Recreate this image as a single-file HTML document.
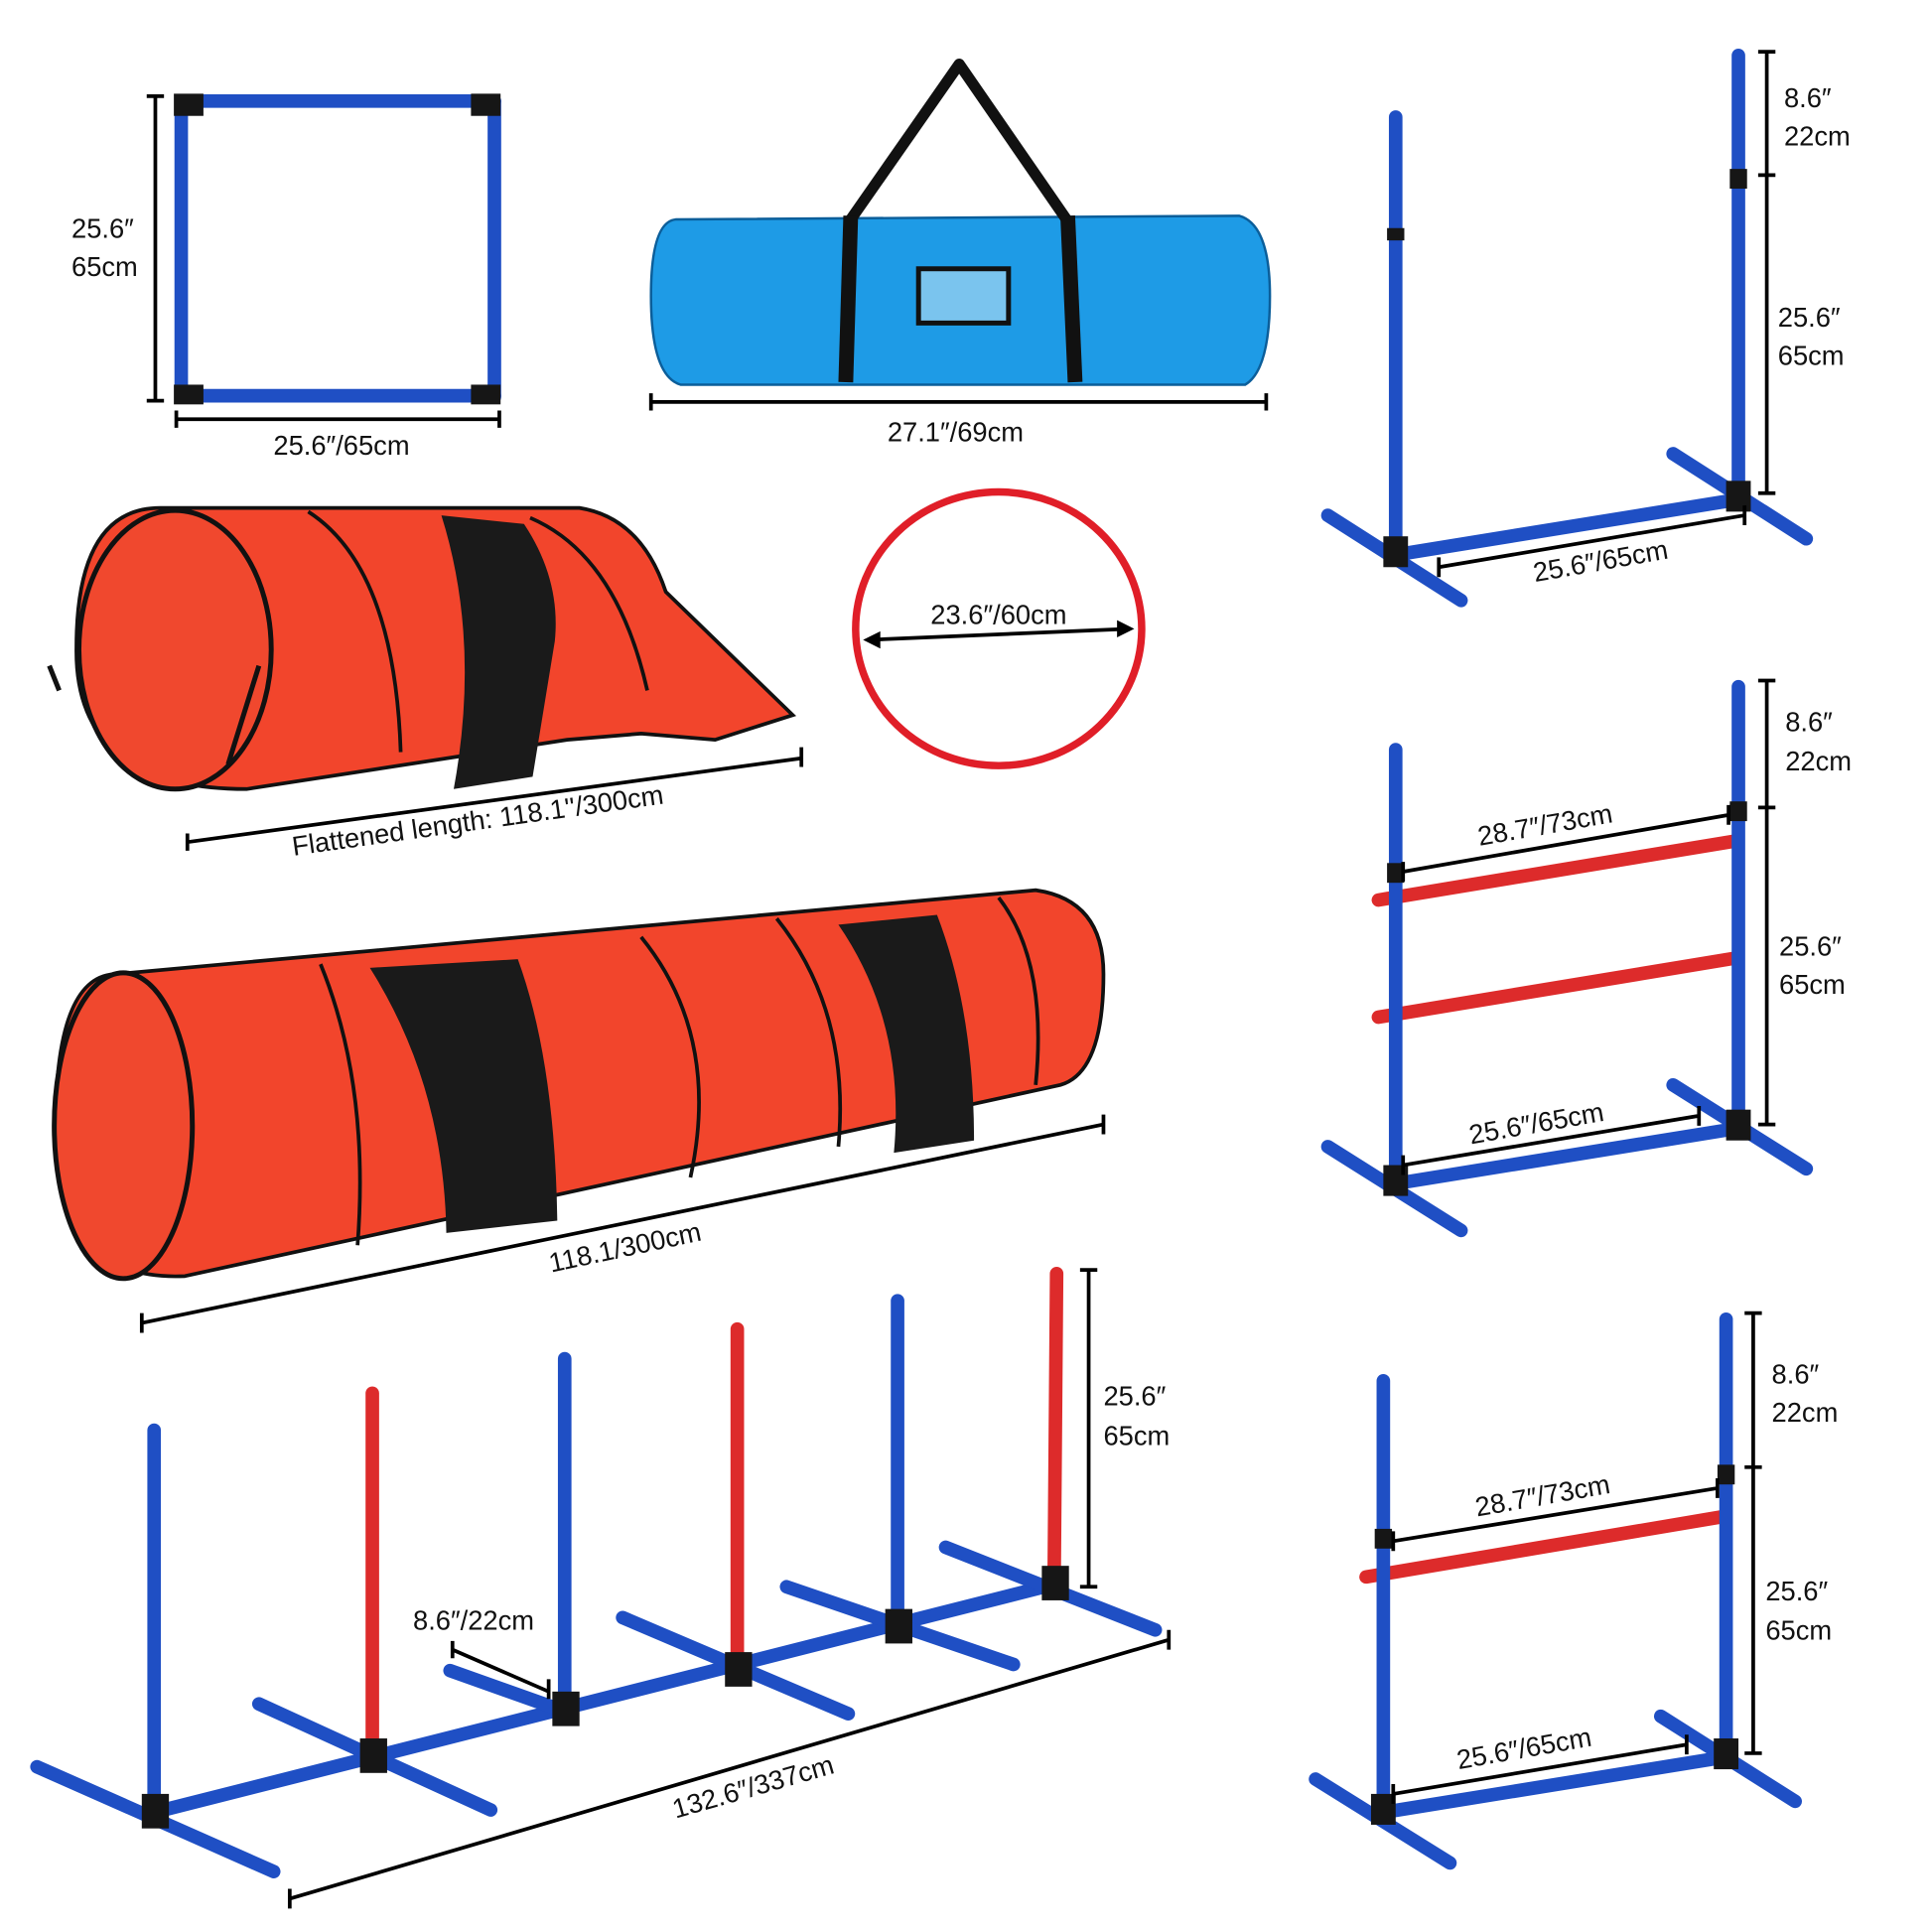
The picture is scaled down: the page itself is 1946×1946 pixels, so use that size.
<!DOCTYPE html>
<html><head><meta charset="utf-8"><style>
html,body{margin:0;padding:0;background:#fff;}
svg{display:block}
text{font-family:"Liberation Sans","DejaVu Sans",sans-serif;font-size:22px;fill:#111;}
.b{stroke:#1f4fc4;stroke-width:11;stroke-linecap:round;fill:none}
.r{stroke:#dd2b2b;stroke-width:11;stroke-linecap:round;fill:none}
.d{stroke:#000;stroke-width:3;fill:none}
.k{fill:#161616}
.tun{fill:#f2452c;stroke:#111;stroke-width:3}
</style></head><body>
<svg width="1946" height="1946" viewBox="0 0 1567 1567" xmlns="http://www.w3.org/2000/svg">
<!-- square frame -->
<line class="b" x1="147" y1="82" x2="147" y2="322"/>
<line class="b" x1="401" y1="82" x2="401" y2="322"/>
<line class="b" x1="147" y1="82" x2="401" y2="82"/>
<line class="b" x1="147" y1="321" x2="401" y2="321"/>
<rect class="k" x="141" y="76" width="24" height="18"/><rect class="k" x="382" y="76" width="24" height="18"/>
<rect class="k" x="141" y="312" width="24" height="16"/><rect class="k" x="382" y="312" width="24" height="16"/>
<path class="d" d="M126 78V325M119 78H133M119 325H133"/>
<text x="58" y="193">25.6″</text><text x="58" y="224">65cm</text>
<path class="d" d="M143 340H405M143 333V347M405 333V347"/>
<text x="277" y="369" text-anchor="middle">25.6″/65cm</text>
<!-- bag -->
<path d="M548 178 Q528 180 528 240 Q528 305 552 312 L1010 312 Q1030 300 1030 240 Q1030 182 1005 175 Z" fill="#1e9be6" stroke="#0b5e9a" stroke-width="2"/>
<path d="M690 178 L778 52 L865 178" stroke="#111" stroke-width="9" fill="none" stroke-linejoin="round"/>
<line x1="690" y1="175" x2="686" y2="310" stroke="#111" stroke-width="12"/>
<line x1="866" y1="175" x2="872" y2="310" stroke="#111" stroke-width="12"/>
<rect x="745" y="218" width="73" height="44" fill="#7ac4ee" stroke="#111" stroke-width="4"/>
<path class="d" d="M528 326H1027M528 319V333M1027 319V333"/>
<text x="775" y="358" text-anchor="middle">27.1″/69cm</text>
<!-- short tunnel -->
<path class="tun" d="M130 412 L470 412 Q520 420 540 480 L643 580 L580 600 L520 595 L460 600 L200 640 Q60 640 62 525 Q62 412 130 412Z"/>
<ellipse cx="142" cy="527" rx="78" ry="113" fill="#f0482e" stroke="#111" stroke-width="4"/>
<path d="M250 415 Q320 460 325 610" stroke="#111" stroke-width="3" fill="none"/>
<path d="M430 420 Q500 450 525 560" stroke="#111" stroke-width="3" fill="none"/>
<path d="M358 418 L425 425 Q455 470 450 520 L432 630 L368 640 Q390 520 358 418Z" fill="#1a1a1a"/>
<path d="M40 540 L48 560 M210 540 L185 620" stroke="#111" stroke-width="4" fill="none"/>
<path class="d" d="M152 683L650 615M152 676V690M650 606V622"/>
<text transform="translate(238,694) rotate(-8)">Flattened length: 118.1''/300cm</text>
<!-- hoop -->
<ellipse cx="810" cy="510" rx="116" ry="111" fill="none" stroke="#e01e28" stroke-width="6"/>
<path class="d" d="M704 519L916 510"/>
<path d="M700 519l14-7v14zM920 510l-14-7v14z" fill="#000"/>
<text x="810" y="506" text-anchor="middle">23.6″/60cm</text>
<!-- long tunnel -->
<path class="tun" d="M95 790 L840 722 Q895 730 895 790 Q895 870 860 880 L150 1035 Q45 1040 45 915 Q45 790 95 790Z"/>
<ellipse cx="100" cy="913" rx="56" ry="124" fill="#f0482e" stroke="#111" stroke-width="4"/>
<path d="M260 782 Q300 880 290 1010 M520 760 Q585 840 560 955 M630 745 Q690 820 680 930 M810 728 Q850 780 840 880" stroke="#111" stroke-width="3" fill="none"/>
<path d="M300 785 L420 778 Q450 860 452 990 L362 1000 Q360 880 300 785Z" fill="#1a1a1a"/>
<path d="M680 750 L760 742 Q790 820 790 925 L725 935 Q735 830 680 750Z" fill="#1a1a1a"/>
<path class="d" d="M115 1073L895 912M115 1065V1081M895 904V920"/>
<text transform="translate(447,1032) rotate(-12)">118.1/300cm</text>
<!-- weave poles -->
<line class="b" x1="125" y1="1470" x2="855" y2="1285"/>
<line class="b" x1="30" y1="1433" x2="222" y2="1518"/>
<line class="b" x1="210" y1="1382" x2="398" y2="1468"/>
<line class="b" x1="365" y1="1355" x2="458" y2="1388"/>
<line class="b" x1="505" y1="1312" x2="688" y2="1390"/>
<line class="b" x1="638" y1="1287" x2="822" y2="1350"/>
<line class="b" x1="767" y1="1255" x2="937" y2="1322"/>
<line class="b" x1="125" y1="1160" x2="125" y2="1470"/>
<line class="r" x1="302" y1="1130" x2="302" y2="1422"/>
<line class="b" x1="458" y1="1102" x2="458" y2="1385"/>
<line class="r" x1="598" y1="1078" x2="598" y2="1352"/>
<line class="b" x1="728" y1="1055" x2="728" y2="1318"/>
<line class="r" x1="857" y1="1033" x2="855" y2="1282"/>
<g class="k">
<rect x="115" y="1455" width="22" height="28"/><rect x="292" y="1410" width="22" height="28"/>
<rect x="448" y="1372" width="22" height="28"/><rect x="588" y="1340" width="22" height="28"/>
<rect x="718" y="1305" width="22" height="28"/><rect x="845" y="1270" width="22" height="28"/>
</g>
<path class="d" d="M883 1030V1287M876 1030H890M876 1287H890"/>
<text x="895" y="1140">25.6″</text><text x="895" y="1172">65cm</text>
<text x="335" y="1322">8.6″/22cm</text>
<path class="d" d="M367 1338L445 1372M367 1331V1345M445 1362V1378"/>
<path class="d" d="M235 1540L948 1330M235 1532V1548M948 1322V1338"/>
<text transform="translate(548,1475) rotate(-16)">132.6″/337cm</text>
<!-- hurdle 1 -->
<line class="b" x1="1132" y1="450" x2="1410" y2="405"/>
<line class="b" x1="1077" y1="418" x2="1185" y2="487"/>
<line class="b" x1="1357" y1="368" x2="1465" y2="437"/>
<line class="b" x1="1132" y1="95" x2="1132" y2="452"/>
<line class="b" x1="1410" y1="45" x2="1410" y2="405"/>
<rect class="k" x="1125" y="185" width="14" height="10"/><rect class="k" x="1403" y="137" width="14" height="16"/>
<rect class="k" x="1122" y="435" width="20" height="25"/><rect class="k" x="1400" y="390" width="20" height="25"/>
<path class="d" d="M1433 42V400M1426 42H1440M1426 142H1440M1426 400H1440"/>
<text x="1447" y="87">8.6″</text><text x="1447" y="118">22cm</text>
<text x="1442" y="265">25.6″</text><text x="1442" y="296">65cm</text>
<path class="d" d="M1167 460L1415 418M1167 452V468M1415 410V426"/>
<text transform="translate(1245,472) rotate(-10)">25.6″/65cm</text>
<!-- hurdle 2 -->
<line class="b" x1="1132" y1="960" x2="1410" y2="915"/>
<line class="b" x1="1077" y1="930" x2="1185" y2="998"/>
<line class="b" x1="1357" y1="880" x2="1465" y2="948"/>
<line class="r" x1="1118" y1="730" x2="1408" y2="682"/>
<line class="r" x1="1118" y1="825" x2="1408" y2="777"/>
<line class="b" x1="1132" y1="608" x2="1132" y2="962"/>
<line class="b" x1="1410" y1="557" x2="1410" y2="915"/>
<rect class="k" x="1125" y="700" width="14" height="16"/><rect class="k" x="1403" y="650" width="14" height="16"/>
<rect class="k" x="1122" y="945" width="20" height="25"/><rect class="k" x="1400" y="900" width="20" height="25"/>
<path class="d" d="M1433 552V912M1426 552H1440M1426 655H1440M1426 912H1440"/>
<text x="1448" y="593">8.6″</text><text x="1448" y="625">22cm</text>
<text x="1443" y="775">25.6″</text><text x="1443" y="806">65cm</text>
<path class="d" d="M1138 707L1402 661M1138 699V715M1402 653V669"/>
<text transform="translate(1200,686) rotate(-10)">28.7″/73cm</text>
<path class="d" d="M1138 945L1378 905M1138 937V953M1378 897V913"/>
<text transform="translate(1193,928) rotate(-10)">25.6″/65cm</text>
<!-- hurdle 3 -->
<line class="b" x1="1122" y1="1470" x2="1400" y2="1425"/>
<line class="b" x1="1067" y1="1443" x2="1176" y2="1511"/>
<line class="b" x1="1347" y1="1392" x2="1456" y2="1461"/>
<line class="r" x1="1108" y1="1279" x2="1398" y2="1230"/>
<line class="b" x1="1122" y1="1120" x2="1122" y2="1472"/>
<line class="b" x1="1400" y1="1070" x2="1400" y2="1425"/>
<rect class="k" x="1115" y="1240" width="14" height="16"/><rect class="k" x="1393" y="1188" width="14" height="16"/>
<rect class="k" x="1112" y="1455" width="20" height="25"/><rect class="k" x="1390" y="1410" width="20" height="25"/>
<path class="d" d="M1422 1065V1422M1415 1065H1429M1415 1190H1429M1415 1422H1429"/>
<text x="1437" y="1122">8.6″</text><text x="1437" y="1153">22cm</text>
<text x="1432" y="1298">25.6″</text><text x="1432" y="1330">65cm</text>
<path class="d" d="M1130 1250L1393 1207M1130 1242V1258M1393 1199V1215"/>
<text transform="translate(1198,1230) rotate(-10)">28.7″/73cm</text>
<path class="d" d="M1130 1455L1368 1415M1130 1447V1463M1368 1407V1423"/>
<text transform="translate(1183,1435) rotate(-10)">25.6″/65cm</text>
</svg>
</body></html>
